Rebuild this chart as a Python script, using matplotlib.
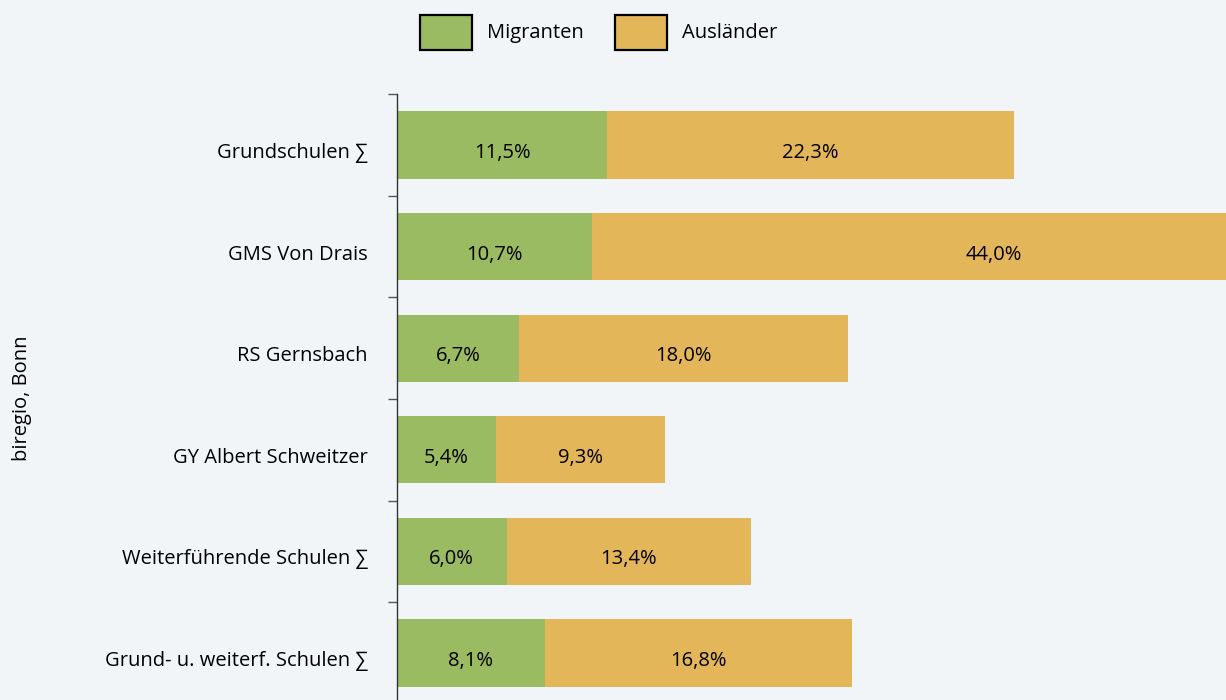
import matplotlib.pyplot as plt
import matplotlib.patches as mpatches
import matplotlib.transforms as mtransforms
import numpy as np

plt.rcParams["font.family"] = ["Open Sans", "DejaVu Sans"]

categories = [
    "Grundschulen \u2211",
    "GMS Von Drais",
    "RS Gernsbach",
    "GY Albert Schweitzer",
    "Weiterf\u00fchrende Schulen \u2211",
    "Grund- u. weiterf. Schulen \u2211",
]
migranten = [11.5, 10.7, 6.7, 5.4, 6.0, 8.1]
auslaender = [22.3, 44.0, 18.0, 9.3, 13.4, 16.8]
series_names = ["Migranten", "Ausl\u00e4nder"]

BG = "#f2f5f8"
GREEN = "#9bbb62"
GOLD = "#e3b65a"
FS = 14.5
W, H = 1226, 700

fig = plt.figure(figsize=(W / 100, H / 100), dpi=100, facecolor=BG)
ax = fig.add_axes([397 / W, -3.8 / H, 1 - 397 / W, 609.6 / H])
ax.set_facecolor(BG)

# baseline of the text sits ~13 px below the bar centre in the original
down = mtransforms.ScaledTranslation(0, -13 / 100, fig.dpi_scale_trans)
lab_tr = mtransforms.blended_transform_factory(ax.transAxes, ax.transData) + \
    mtransforms.ScaledTranslation(-29 / 100, -13 / 100, fig.dpi_scale_trans)

y = np.arange(len(categories))
ax.barh(y, migranten, height=0.66, color=GREEN)
ax.barh(y, auslaender, left=migranten, height=0.66, color=GOLD)

for i in range(len(categories)):
    ax.text(migranten[i] / 2, y[i], f"{migranten[i]:.1f}%".replace(".", ","),
            ha="center", va="baseline", fontsize=FS, color="black",
            transform=ax.transData + down)
    ax.text(migranten[i] + auslaender[i] / 2, y[i],
            f"{auslaender[i]:.1f}%".replace(".", ","),
            ha="center", va="baseline", fontsize=FS, color="black",
            transform=ax.transData + down)
    ax.text(0, y[i], categories[i], ha="right", va="baseline", fontsize=FS,
            color="black", transform=lab_tr, clip_on=False)

ax.set_xlim(0, 45.4)
ax.set_ylim(len(categories) - 0.5, -0.5)
ax.set_yticks(y)
ax.set_yticklabels([])
ax.set_yticks(np.arange(-0.5, len(categories), 1.0), minor=True)
ax.tick_params(axis="y", which="major", length=0)
ax.tick_params(axis="y", which="minor", length=6.5, width=1, color="#555555")
ax.set_xticks([])
for s in ["top", "right", "bottom"]:
    ax.spines[s].set_visible(False)
ax.spines["left"].set_color("#333333")
ax.spines["left"].set_linewidth(1)

fig.text(22 / W, 1 - 398 / H, "biregio, Bonn", rotation=90,
         ha="center", va="center", fontsize=FS)

# legend drawn by hand: boxes with black outline + labels
leg_boxes = [(420, GREEN), (615, GOLD)]
for (x0, col), name in zip(leg_boxes, series_names):
    fig.patches.append(mpatches.Rectangle(
        (x0 / W, 1 - 50 / H), 52 / W, 35 / H, transform=fig.transFigure,
        facecolor=col, edgecolor="black", linewidth=1.6))
    fig.text((x0 + 67) / W, 1 - 33 / H, name, ha="left", va="center",
             fontsize=FS)

fig.savefig("out.png", dpi=100, facecolor=BG)
